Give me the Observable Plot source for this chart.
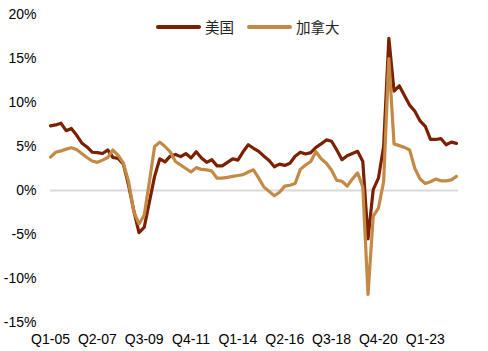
<!DOCTYPE html>
<html>
<head>
<meta charset="utf-8">
<script src="https://cdn.jsdelivr.net/npm/d3@7"></script>
<script src="https://cdn.jsdelivr.net/npm/@observablehq/plot@0.6"></script>
<style>
  html, body { margin: 0; padding: 0; background: #fff; }
  #wrap { position: relative; width: 488px; height: 351px; }
  #legend { position: absolute; top: 16px; left: 156px; display: flex; align-items: center;
            font-family: "Noto Sans CJK SC", sans-serif; font-size: 14.5px; color: #222; }
  .item { display: flex; align-items: center; margin-right: 13px; }
  .item svg { margin-right: 4px; }
</style>
</head>
<body>
<div id="wrap"><div id="legend"></div></div>
<script>
const quarters = [
  "Q1-05","Q2-05","Q3-05","Q4-05","Q1-06","Q2-06","Q3-06","Q4-06",
  "Q1-07","Q2-07","Q3-07","Q4-07","Q1-08","Q2-08","Q3-08","Q4-08",
  "Q1-09","Q2-09","Q3-09","Q4-09","Q1-10","Q2-10","Q3-10","Q4-10",
  "Q1-11","Q2-11","Q3-11","Q4-11","Q1-12","Q2-12","Q3-12","Q4-12",
  "Q1-13","Q2-13","Q3-13","Q4-13","Q1-14","Q2-14","Q3-14","Q4-14",
  "Q1-15","Q2-15","Q3-15","Q4-15","Q1-16","Q2-16","Q3-16","Q4-16",
  "Q1-17","Q2-17","Q3-17","Q4-17","Q1-18","Q2-18","Q3-18","Q4-18",
  "Q1-19","Q2-19","Q3-19","Q4-19","Q1-20","Q2-20","Q3-20","Q4-20",
  "Q1-21","Q2-21","Q3-21","Q4-21","Q1-22","Q2-22","Q3-22","Q4-22",
  "Q1-23","Q2-23","Q3-23","Q4-23","Q1-24","Q2-24","Q3-24"
];
const xTickLabels = ["Q1-05","Q2-07","Q3-09","Q4-11","Q1-14","Q2-16","Q3-18","Q4-20","Q1-23"];
const yTicks = [-15, -10, -5, 0, 5, 10, 15, 20];
const seriesNames = ["美国", "加拿大"];
const seriesColors = ["#7B2000", "#C48A45"];

const us = [
  7.35, 7.45, 7.65, 6.8, 7.05, 6.3, 5.4, 4.95,
  4.35, 4.3, 4.2, 4.6, 3.75, 3.65, 3.0, 0.6,
  -2.3, -4.8, -4.2, -1.3, 1.6, 3.6, 3.25, 3.9,
  4.1, 3.85, 4.2, 3.7, 4.4, 3.7, 3.2, 3.5,
  2.8, 2.8, 3.2, 3.6, 3.45, 4.4, 5.2, 4.8,
  4.45, 3.9, 3.4, 2.7, 3.0, 2.85, 3.1, 3.9,
  4.35, 4.15, 4.3, 4.9, 5.3, 5.75, 5.6, 4.6,
  3.5, 3.95, 4.2, 4.45, 3.3, -5.5, 0.1, 1.4,
  5.0, 17.3, 11.3, 11.9, 10.8, 9.7, 9.0, 7.9,
  7.3, 5.8, 5.8, 5.9, 5.2, 5.5, 5.35
];
const canada = [
  3.8, 4.35, 4.5, 4.7, 4.85, 4.65, 4.2, 3.75,
  3.35, 3.2, 3.45, 3.75, 4.6, 4.0, 3.1, 1.0,
  -2.4, -3.8, -2.8, 1.0, 5.0, 5.5, 5.0, 4.4,
  3.3, 2.9, 2.5, 2.1, 2.6, 2.4, 2.35, 2.2,
  1.4, 1.4, 1.5, 1.6, 1.7, 1.8, 2.1, 2.35,
  1.4, 0.4, -0.1, -0.6, -0.2, 0.5, 0.6, 0.8,
  2.4, 2.9, 3.3, 4.4, 3.6, 3.1, 2.3, 1.15,
  1.05, 0.5, 1.3, 2.0, 0.4, -11.8, -2.9, -2.0,
  1.0, 15.0, 5.3, 5.1, 4.9, 4.6, 2.5, 1.3,
  0.8, 1.0, 1.3, 1.1, 1.1, 1.2, 1.6
];

const rows = [];
quarters.forEach((q, i) => rows.push({i, q, v: us[i], s: seriesNames[0]}));
quarters.forEach((q, i) => rows.push({i, q, v: canada[i], s: seriesNames[1]}));

const tickIdx = xTickLabels.map(l => quarters.indexOf(l));

const chart = Plot.plot({
  width: 488,
  height: 351,
  marginLeft: 50,
  marginRight: 32,
  marginTop: 14,
  marginBottom: 29,
  style: {fontFamily: "'Liberation Sans', Arial, sans-serif", fontSize: "14px", color: "#000", background: "#fff"},
  x: {type: "linear", domain: [0, quarters.length - 1], ticks: tickIdx, tickFormat: i => quarters[i], tickSize: 0, tickPadding: 12, label: null},
  y: {domain: [-15, 20], ticks: yTicks, tickFormat: d => d + "%", tickSize: 0, tickPadding: 14, label: null},
  color: {domain: seriesNames, range: seriesColors},
  marks: [
    Plot.ruleY([0], {stroke: "#d9d9d9", strokeWidth: 2, insetRight: -2}),
    Plot.lineY(rows, {x: "i", y: "v", z: "s", stroke: "s", strokeWidth: 3.2, strokeLinejoin: "round", strokeLinecap: "round"})
  ]
});
document.getElementById("wrap").prepend(chart);

const legend = document.getElementById("legend");
seriesNames.forEach((name, i) => {
  const item = document.createElement("div");
  item.className = "item";
  item.innerHTML = `<svg width="45" height="8"><line x1="2" y1="4" x2="43" y2="4" stroke="${seriesColors[i]}" stroke-width="4" stroke-linecap="round"/></svg><span>${name}</span>`;
  legend.appendChild(item);
});
</script>
</body>
</html>
